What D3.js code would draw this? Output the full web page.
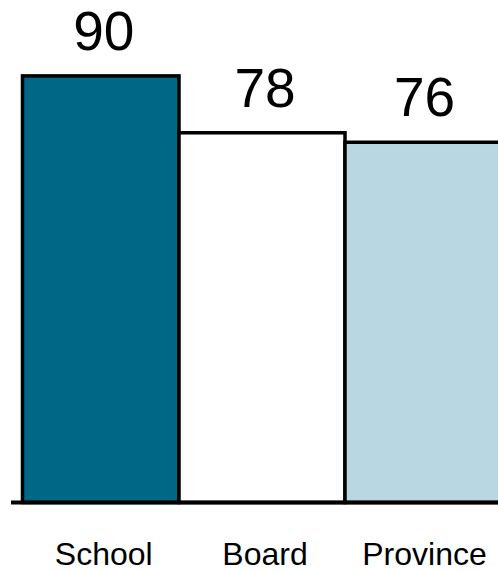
<!DOCTYPE html>
<html>
<head>
<meta charset="utf-8">
<script src="https://cdn.jsdelivr.net/npm/d3@7"></script>
<style>
  html, body { margin: 0; padding: 0; background: #fff; }
  text { font-family: "Liberation Sans", Arial, sans-serif; fill: #000; }
</style>
</head>
<body>
<div id="chart"></div>
<script>
// Data
var categories = ["School", "Board", "Province"];
var values = [90, 78, 76];
var colours = ["#006787", "#ffffff", "#b9d7e2"];

var width = 498;
var height = 571;

// plot area is cut on both sides, like the source image
var clip = { left: 22.5, right: 498 };

var svg = d3.select("#chart").append("svg")
  .attr("width", width)
  .attr("height", height)
  .attr("viewBox", "0 0 " + width + " " + height);

var scaleX = d3.scaleBand()
  .domain(categories)
  .range([13, 511])
  .padding(0);

var scaleY = d3.scaleLinear()
  .domain([0, 100])
  .range([502.5, 28.5]);

var data = categories.map(function (c, i) {
  return { name: c, value: values[i], colour: colours[i] };
});

// visible extent of a bar
function x0(d) { return Math.max(scaleX(d.name), clip.left); }
function x1(d) { return scaleX(d.name) + scaleX.bandwidth(); }
function visibleCentre(d) {
  return (x0(d) + Math.min(x1(d), clip.right)) / 2;
}

svg.selectAll("rect.bar")
  .data(data)
  .enter()
  .append("rect")
  .attr("class", "bar")
  .attr("x", x0)
  .attr("y", function (d) { return scaleY(d.value); })
  .attr("width", function (d) { return x1(d) - x0(d); })
  .attr("height", function (d) { return scaleY(0) - scaleY(d.value); })
  .attr("fill", function (d) { return d.colour; })
  .attr("stroke", "#000")
  .attr("stroke-width", 3.5);

// baseline
svg.append("line")
  .attr("x1", 11)
  .attr("x2", width)
  .attr("y1", scaleY(0))
  .attr("y2", scaleY(0))
  .attr("stroke", "#000")
  .attr("stroke-width", 4);

// value labels
svg.selectAll("text.value")
  .data(data)
  .enter()
  .append("text")
  .attr("class", "value")
  .attr("x", function (d) { return visibleCentre(d) + 3; })
  .attr("y", function (d) { return scaleY(d.value) - 26; })
  .attr("text-anchor", "middle")
  .style("font-size", "55px")
  .text(function (d) { return d.value; });

// category labels
svg.selectAll("text.category")
  .data(data)
  .enter()
  .append("text")
  .attr("class", "category")
  .attr("x", function (d) { return visibleCentre(d) + 3; })
  .attr("y", 565)
  .attr("text-anchor", "middle")
  .style("font-size", "32px")
  .text(function (d) { return d.name; });
</script>
</body>
</html>
